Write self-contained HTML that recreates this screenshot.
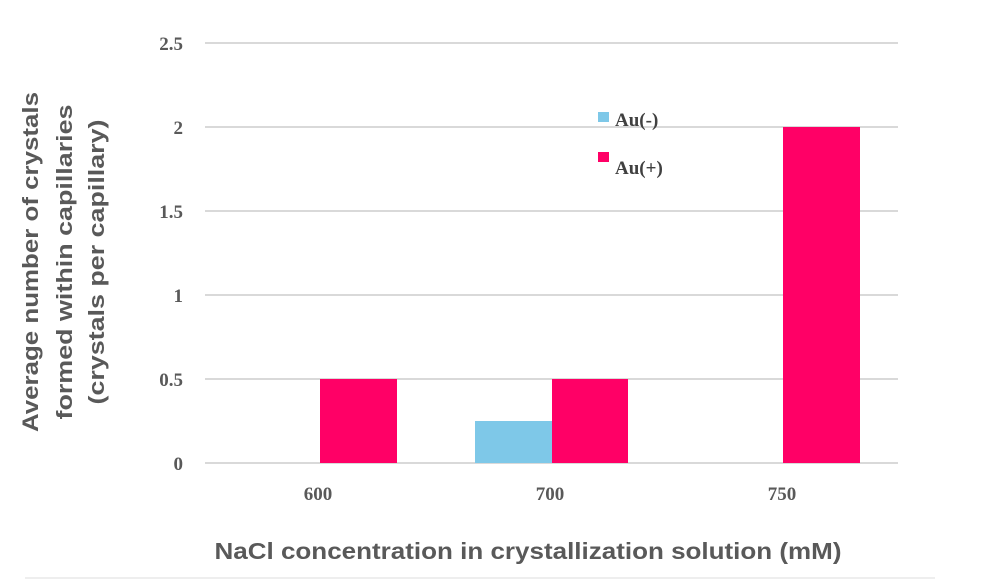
<!DOCTYPE html>
<html><head><style>
body{margin:0;background:#fff;width:1000px;height:583px;overflow:hidden}
</style></head><body>
<svg width="1000" height="583" xmlns="http://www.w3.org/2000/svg">
<g stroke="#d9d9d9" stroke-width="2">
<line x1="205" y1="43" x2="898" y2="43"/>
<line x1="205" y1="127" x2="898" y2="127"/>
<line x1="205" y1="211" x2="898" y2="211"/>
<line x1="205" y1="295" x2="898" y2="295"/>
<line x1="205" y1="379" x2="898" y2="379"/>
<line x1="205" y1="463" x2="898" y2="463"/>
<line x1="25" y1="578" x2="935" y2="578" stroke="#eeeeee"/>
</g>
<rect x="320" y="379" width="77" height="84" fill="#ff0066"/>
<rect x="475" y="421" width="77" height="42" fill="#7ec8e8"/>
<rect x="552" y="379" width="76" height="84" fill="#ff0066"/>
<rect x="783" y="127" width="77" height="336" fill="#ff0066"/>
<g font-family="Liberation Serif, serif" font-weight="bold" font-size="19" fill="#595959" text-anchor="end">
<text x="183" y="50">2.5</text>
<text x="183" y="134">2</text>
<text x="183" y="218">1.5</text>
<text x="183" y="302">1</text>
<text x="183" y="386">0.5</text>
<text x="183" y="470">0</text>
</g>
<g font-family="Liberation Serif, serif" font-weight="bold" font-size="19" fill="#595959" text-anchor="middle">
<text x="318" y="500">600</text>
<text x="550" y="500">700</text>
<text x="782" y="500">750</text>
</g>
<rect x="598" y="112" width="11" height="10" fill="#7ec8e8"/>
<rect x="598" y="152" width="11" height="10" fill="#ff0066"/>
<g font-family="Liberation Serif, serif" font-weight="bold" font-size="19" fill="#404040">
<text x="615" y="126">Au(-)</text>
<text x="615" y="174">Au(+)</text>
</g>
<text x="528" y="559" font-family="Liberation Sans, sans-serif" font-weight="bold" font-size="23" fill="#595959" text-anchor="middle" textLength="627" lengthAdjust="spacingAndGlyphs">NaCl concentration in crystallization solution (mM)</text>
<g font-family="Liberation Sans, sans-serif" font-weight="bold" font-size="22" fill="#595959" text-anchor="middle">
<text transform="translate(38,262) rotate(-90)" textLength="340" lengthAdjust="spacingAndGlyphs">Average number of crystals</text>
<text transform="translate(72,262) rotate(-90)" textLength="315" lengthAdjust="spacingAndGlyphs">formed within capillaries</text>
<text transform="translate(104,262) rotate(-90)" textLength="285" lengthAdjust="spacingAndGlyphs">(crystals per capillary)</text>
</g>
</svg>
</body></html>
